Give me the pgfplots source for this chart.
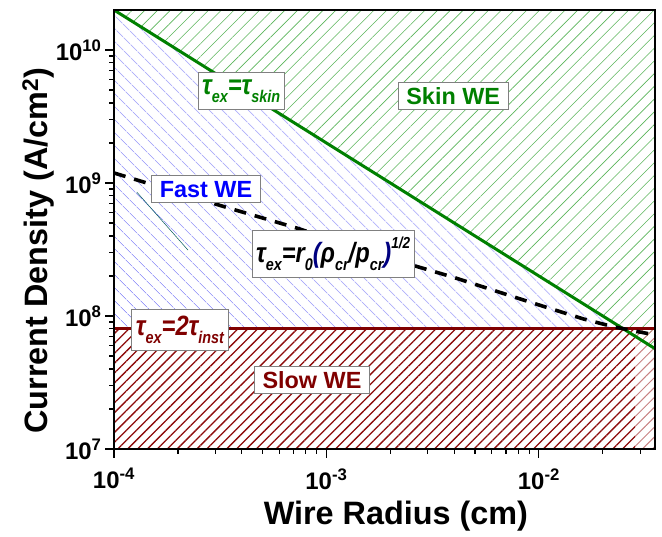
\documentclass[border=0pt]{standalone}
\usepackage{pgfplots}
\pgfplotsset{compat=1.18}
\usepackage{fontspec}
\setmainfont{Liberation Sans}
\usetikzlibrary{patterns.meta}
\definecolor{dgreen}{RGB}{0,128,0}
\definecolor{dred}{RGB}{128,0,0}
\definecolor{hgreen}{RGB}{90,180,90}
\definecolor{hblue}{RGB}{90,90,245}
\definecolor{hred}{RGB}{140,10,10}
\definecolor{hpink}{RGB}{200,130,130}
\definecolor{navy}{RGB}{0,0,128}
\newcommand{\sub}[1]{\raisebox{-0.28em}{\fontsize{17}{17}\selectfont #1}}
\newcommand{\sups}[1]{\raisebox{0.5em}{\fontsize{16}{16}\selectfont #1}}
\tikzset{box/.style={draw=gray, line width=1pt, fill=white, inner xsep=8bp, inner ysep=5bp, font=\bfseries\fontsize{23.5}{26}\selectfont},
  fbox/.style={draw=gray, line width=1pt, fill=white, inner xsep=4bp, inner ysep=7bp, font=\bfseries\itshape\fontsize{28}{30}\selectfont}}
\begin{document}
\begin{tikzpicture}
\begin{axis}[
  xmode=log, ymode=log,
  scale only axis, width=541bp, height=439bp,
  xmin=1e-4, xmax=3.52e-2, ymin=1e7, ymax=2e10,
  axis line style={line width=1.5pt},
  axis on top,
  tick pos=left, tick align=outside,
  major tick length=9bp, minor tick length=5bp,
  every tick/.style={black, line width=1.2pt},
  xtick={1e-4,1e-3,1e-2},
  xticklabels={10\textsuperscript{-4},10\textsuperscript{-3},10\textsuperscript{-2}},
  minor xtick={2e-4,3e-4,4e-4,5e-4,6e-4,7e-4,8e-4,9e-4,2e-3,3e-3,4e-3,5e-3,6e-3,7e-3,8e-3,9e-3,2e-2,3e-2},
  ytick={1e7,1e8,1e9,1e10},
  yticklabels={10\textsuperscript{7},10\textsuperscript{8},10\textsuperscript{9},10\textsuperscript{10}},
  minor ytick={2e7,3e7,4e7,5e7,6e7,7e7,8e7,9e7,2e8,3e8,4e8,5e8,6e8,7e8,8e8,9e8,2e9,3e9,4e9,5e9,6e9,7e9,8e9,9e9},
  ticklabel style={font=\bfseries\fontsize{24}{26}\selectfont},
  xticklabel style={yshift=-7bp},
  xlabel={Wire Radius (cm)},
  ylabel={Current Density (A/cm\textsuperscript{2})},
  every axis x label/.style={at={(axis description cs:0.521,-0.173)}, anchor=base},
  every axis y label/.style={at={(axis description cs:-0.1405,0.452)}, rotate=90, anchor=center},
  label style={font=\bfseries\fontsize{32.5}{36}\selectfont},
]
% hatched regions
\addplot[draw=none, pattern={Lines[angle=45,distance=9bp,line width=0.6pt]}, pattern color=hgreen]
  coordinates {(1e-4,2e10) (3.52e-2,5.68e7) (3.52e-2,2e10)} -- cycle;
\addplot[draw=none, pattern={Lines[angle=-45,distance=10bp,line width=0.6pt]}, pattern color=hblue]
  coordinates {(1e-4,2e10) (2.5e-2,8e7) (1e-4,8e7)} -- cycle;
\addplot[draw=none, pattern={Lines[angle=45,distance=7bp,line width=1.3pt]}, pattern color=hred]
  coordinates {(1e-4,1e7) (2.84e-2,1e7) (2.84e-2,8e7) (1e-4,8e7)} -- cycle;
\addplot[draw=none, pattern={Lines[angle=45,distance=7bp,line width=1.0pt]}, pattern color=hpink]
  coordinates {(2.84e-2,1e7) (3.52e-2,1e7) (3.52e-2,8e7) (2.84e-2,8e7)} -- cycle;
% thin artifact line
\addplot[color=teal!70!black, line width=0.5pt] coordinates {(1.28e-4,8.55e8) (2.23e-4,3.13e8)};
% boundaries
\addplot[color=dred, line width=3pt] coordinates {(1e-4,8e7) (3.52e-2,8e7)};
\addplot[color=dgreen, line width=3pt] coordinates {(1e-4,2e10) (3.52e-2,5.68e7)};
\addplot[color=black, line width=3.6pt, dash pattern=on 12bp off 9bp] coordinates {
  (1e-4,1.19e9) (3.34e-4,6.6e8) (7.3e-4,4.57e8) (1.6e-3,3.0e8) (3.98e-3,1.95e8)
  (9.1e-3,1.27e8) (1.62e-2,9.5e7) (2.24e-2,8.3e7) (3.52e-2,7.2e7)};
% labels
\node[fbox, text=dgreen] at (rel axis cs:0.235,0.815) {\scalebox{0.85}[1]{τ\sub{ex}=τ\sub{skin}}};
\node[box, text=dgreen] at (rel axis cs:0.627,0.804) {Skin WE};
\node[box, text=blue] at (rel axis cs:0.170,0.592) {Fast WE};
\node[fbox, text=black] at (rel axis cs:0.405,0.444) {\scalebox{0.85}[1]{τ\sub{ex}=r\sub{0}{\color{navy}(}ρ\sub{cr}/p\sub{cr}{\color{navy})}\sups{1/2}}};
\node[fbox, text=dred] at (rel axis cs:0.122,0.271) {\scalebox{0.85}[1]{τ\sub{ex}=2τ\sub{inst}}};
\node[box, text=dred] at (rel axis cs:0.366,0.157) {Slow WE};
\end{axis}
\path (current axis.south west) ++(-114bp,-88bp) coordinate (bbA);
\path (current axis.north east) ++(7bp,10bp) coordinate (bbB);
\path (bbA) rectangle (bbB);
\end{tikzpicture}
\end{document}
